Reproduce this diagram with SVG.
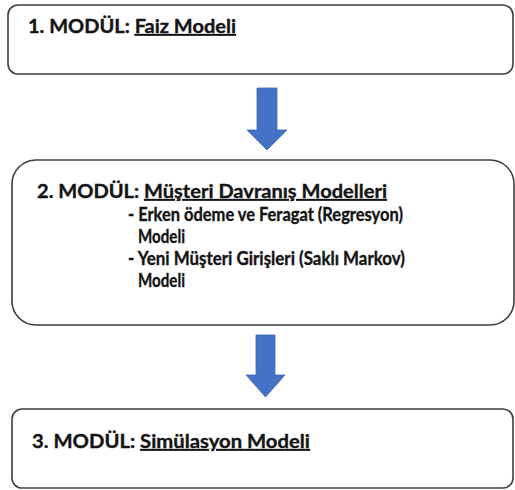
<svg xmlns="http://www.w3.org/2000/svg" width="515" height="490" viewBox="0 0 515 490">
  <style>
    .box { fill: #ffffff; stroke: #3f3f3f; stroke-width: 1.6; }
    .arrow { fill: #4472c4; stroke: #3d68b5; stroke-width: 0.8; }
    .label { font-family: Lato, "Liberation Sans", sans-serif; font-weight: 700; font-size: 18px; fill: #141414; stroke: #141414; stroke-width: 0.35; }
    .u { text-decoration: underline; }
  </style>
  <rect width="515" height="490" fill="#ffffff"/>

  <g id="connectors">
    <polygon class="arrow" points="257,88 277,88 277,130 287,130 267,150 247,130 257,130"/>
    <polygon class="arrow" points="256,335 275,335 275,375 285,375 265.5,397 246,375 256,375"/>
  </g>

  <g id="module1">
    <rect class="box" x="8" y="5" width="505" height="69" rx="10" ry="10"/>
    <text class="label" x="28" y="33" textLength="208" lengthAdjust="spacingAndGlyphs">1. MODÜL: <tspan class="u">Faiz Modeli</tspan></text>
  </g>

  <g id="module2">
    <rect class="box" x="12" y="160" width="502" height="165" rx="24" ry="24"/>
    <text class="label" x="37" y="198" textLength="350" lengthAdjust="spacingAndGlyphs">2. MODÜL: <tspan class="u">Müşteri Davranış Modelleri</tspan></text>
    <text class="label" x="128" y="221" textLength="275" lengthAdjust="spacingAndGlyphs">- Erken ödeme ve Feragat (Regresyon)</text>
    <text class="label" x="138" y="243" textLength="47" lengthAdjust="spacingAndGlyphs">Modeli</text>
    <text class="label" x="128" y="265" textLength="277" lengthAdjust="spacingAndGlyphs">- Yeni Müşteri Girişleri (Saklı Markov)</text>
    <text class="label" x="138" y="287" textLength="47" lengthAdjust="spacingAndGlyphs">Modeli</text>
  </g>

  <g id="module3">
    <rect class="box" x="12" y="409" width="501" height="79" rx="10" ry="10"/>
    <text class="label" x="32" y="448" textLength="278" lengthAdjust="spacingAndGlyphs">3. MODÜL: <tspan class="u">Simülasyon Modeli</tspan></text>
  </g>
</svg>
